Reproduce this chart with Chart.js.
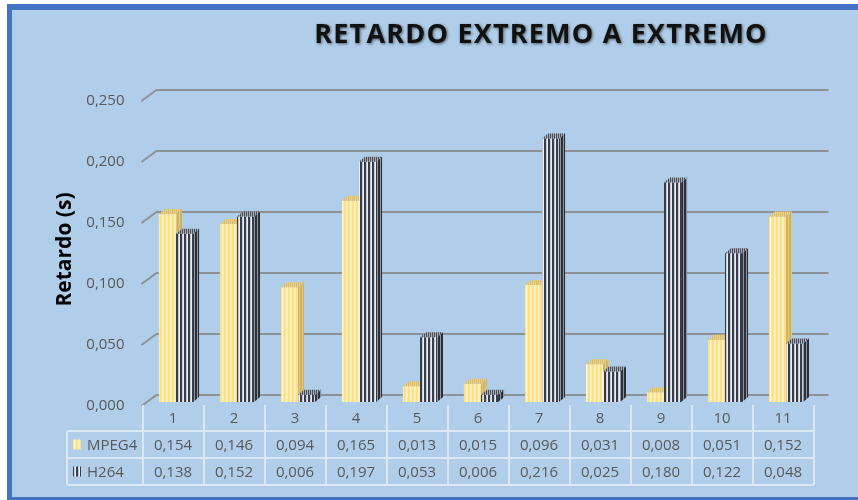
<!DOCTYPE html>
<html>
<head>
<meta charset="utf-8">
<script src="https://cdn.jsdelivr.net/npm/chart.js@4.4.1/dist/chart.umd.min.js"></script>
<style>
    html, body { margin: 0; padding: 0; background: #fff; }
</style>
</head>
<body>
<canvas id="chart1" width="858" height="500"></canvas>
<script>
        // Data
        const categories = ['1', '2', '3', '4', '5', '6', '7', '8', '9', '10', '11'];
        const mpeg4 = [0.154, 0.146, 0.094, 0.165, 0.013, 0.015, 0.096, 0.031, 0.008, 0.051, 0.152];
        const h264 = [0.138, 0.152, 0.006, 0.197, 0.053, 0.006, 0.216, 0.025, 0.180, 0.122, 0.048];
        const seriesNames = ['MPEG4', 'H264'];
        const chartTitle = 'RETARDO EXTREMO A EXTREMO';
        const axisTitle = 'Retardo (s)';

        const fmt = v => v.toFixed(3).replace('.', ',');   // comma decimals

        function makeStripes(parts) {    // vertical stripe pattern
            const c = document.createElement('canvas');
            c.width = parts.reduce((s, p) => s + p[1], 0);
            c.height = 1;
            const g = c.getContext('2d');
            let x = 0;
            parts.forEach(p => { g.fillStyle = p[0]; g.fillRect(x, 0, p[1], 1); x += p[1]; });
            return g.createPattern(c, 'repeat');
        }

        const ctx = document.getElementById('chart1').getContext('2d');

        const looks = [
            {
                front: makeStripes([['#ffdf80', 2], ['#fff6d8', 1], ['#ffe9a8', 1]]),
                side: makeStripes([['#cdb466', 2], ['#dcc680', 1]]),
                top: makeStripes([['#d9bd6c', 1], ['#e8d18a', 1]])
            },
            {
                front: makeStripes([['#363d4b', 2], ['#c6cbd4', 1], ['#eceef2', 1]]),
                side: makeStripes([['#2a2f3a', 2], ['#8e949e', 1]]),
                top: makeStripes([['#4a505c', 1], ['#a3a8b1', 1]])
            }
        ];

        const DX = 6, DY = -5;          // bar depth
        const GX = 15, GY = -11;        // wall depth

        const backdrop = {
            id: 'backdrop',
            beforeDraw(chart) {
                const c = chart.ctx;
                c.save();
                c.fillStyle = '#ffffff';
                c.fillRect(0, 0, chart.width, chart.height);
                c.fillStyle = '#4472c4';
                c.fillRect(7, 4, chart.width, chart.height);
                c.fillStyle = '#b0cee9';
                c.fillRect(12, 10, chart.width, 487);

                // title
                c.font = 'bold 27px "Open Sans"';
                c.letterSpacing = '1.2px';
                c.textAlign = 'center';
                c.textBaseline = 'alphabetic';
                c.shadowColor = 'rgba(0,0,0,0.55)';
                c.shadowBlur = 3;
                c.shadowOffsetX = 1;
                c.shadowOffsetY = 1;
                c.fillStyle = '#111111';
                c.fillText(chartTitle, 541, 43);
                c.restore();
            }
        };

        const bars3d = {
            id: 'bars3d',
            beforeDatasetsDraw(chart) {
                const c = chart.ctx;
                const y = chart.scales.y;
                const area = chart.chartArea;
                c.save();
                // back wall grid
                c.strokeStyle = '#8d9297';
                c.lineWidth = 2;
                y.ticks.forEach(t => {
                    const py = Math.round(y.getPixelForValue(t.value));
                    c.beginPath();
                    c.moveTo(area.left - 4, py + 4);
                    c.lineTo(area.left - 4 + GX, py + 4 + GY);
                    c.lineTo(area.right + 12, py + 4 + GY);
                    c.stroke();
                });

                // bars, category by category so the depth overlaps right
                const metas = chart.data.datasets.map((d, i) => chart.getDatasetMeta(i));
                for (let k = 0; k < categories.length; k++) {
                    metas.forEach((meta, s) => {
                        const bar = meta.data[k];
                        const half = bar.width / 2;
                        const l = bar.x - half, r = bar.x + half;
                        const top = bar.y, base = bar.base;
                        const look = looks[s];

                        c.fillStyle = look.front;
                        c.fillRect(l, top, r - l, base - top);

                        c.fillStyle = look.side;
                        c.beginPath();
                        c.moveTo(r, top);
                        c.lineTo(r + DX, top + DY);
                        c.lineTo(r + DX, base + DY);
                        c.lineTo(r, base);
                        c.closePath();
                        c.fill();

                        c.fillStyle = look.top;
                        c.beginPath();
                        c.moveTo(l, top);
                        c.lineTo(l + DX, top + DY);
                        c.lineTo(r + DX, top + DY);
                        c.lineTo(r, top);
                        c.closePath();
                        c.fill();
                    });
                }
                c.restore();
                return false;
            }
        };

        const dataTable = {
            id: 'dataTable',
            afterDraw(chart) {
                const c = chart.ctx;
                const x = chart.scales.x;
                const area = chart.chartArea;
                const colW = (area.right - area.left) / categories.length;
                const shift = -3;
                const left = area.left + shift, right = area.right + shift;
                const r0 = area.bottom + 3, r1 = area.bottom + 29, r2 = area.bottom + 56, r3 = area.bottom + 83;
                const legL = 67;
                c.save();
                c.strokeStyle = '#dbe7f3';
                c.lineWidth = 2;
                c.beginPath();
                for (let i = 0; i <= categories.length; i++) {
                    const px = Math.round(left + i * colW);
                    c.moveTo(px, r0);
                    c.lineTo(px, r3);
                }
                c.moveTo(legL, r1); c.lineTo(legL, r3);
                [r1, r2, r3].forEach(ry => { c.moveTo(legL, ry); c.lineTo(right, ry); });
                c.stroke();

                c.font = '15px "Open Sans"';
                c.fillStyle = '#595959';
                c.textAlign = 'center';
                c.textBaseline = 'middle';
                const rows = [mpeg4, h264];
                categories.forEach((cat, i) => {
                    const cx = x.getPixelForValue(i) + shift;
                    c.fillText(cat, cx, (r0 + r1) / 2 + 1);
                    c.fillText(fmt(rows[0][i]), cx, (r1 + r2) / 2 + 1);
                    c.fillText(fmt(rows[1][i]), cx, (r2 + r3) / 2 + 1);
                });

                // legend keys
                c.textAlign = 'left';
                [[r1, r2], [r2, r3]].forEach((rr, s) => {
                    const cy = (rr[0] + rr[1]) / 2;
                    c.fillStyle = looks[s].front;
                    c.fillRect(73, cy - 5, 8, 10);
                    c.fillStyle = '#595959';
                    c.fillText(seriesNames[s], 87, cy + 1);
                });
                c.restore();
            }
        };

        new Chart(ctx, {
            type: 'bar',
            data: {
                labels: categories,
                datasets: [
                    { label: seriesNames[0], data: mpeg4, backgroundColor: looks[0].front },
                    { label: seriesNames[1], data: h264, backgroundColor: looks[1].front }
                ]
            },
            options: {
                responsive: false,
                animation: false,
                devicePixelRatio: 1,
                layout: { padding: { left: 49, right: 41.5, top: 97, bottom: 98 } },
                datasets: { bar: { categoryPercentage: 0.56, barPercentage: 1.0 } },
                plugins: {
                    legend: { display: false },
                    title: { display: false },
                    tooltip: { enabled: false }
                },
                scales: {
                    x: { display: false },
                    y: {
                        min: 0,
                        max: 0.25,
                        afterFit: scale => { scale.width = 96.5; },
                        grid: { display: false },
                        border: { display: false },
                        ticks: {
                            stepSize: 0.05,
                            padding: 13,
                            labelOffset: 4,
                            color: '#595959',
                            font: { family: 'Open Sans', size: 15 },
                            callback: v => fmt(v)
                        },
                        title: {
                            display: true,
                            text: axisTitle,
                            color: '#000000',
                            font: { family: 'Open Sans', size: 21, weight: 'bold' },
                            padding: 3
                        }
                    }
                }
            },
            plugins: [backdrop, bars3d, dataTable]
        });
</script>
</body>
</html>
